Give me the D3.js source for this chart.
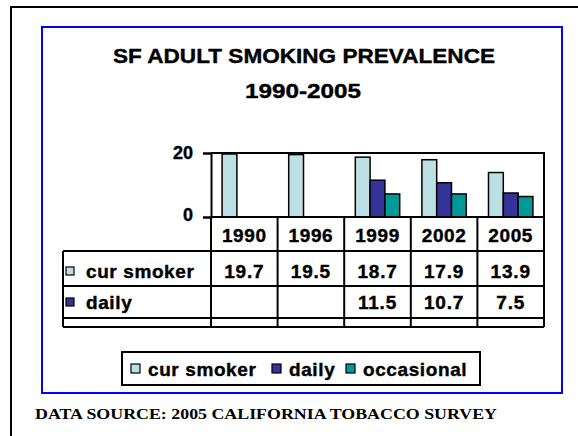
<!DOCTYPE html>
<html>
<head>
<meta charset="utf-8">
<script src="https://cdn.jsdelivr.net/npm/d3@7"></script>
<style>
  body { margin: 0; background: #fff; }
  svg text { font-weight: bold; fill: #000; }
  svg text.heavy { stroke: #000; stroke-width: 0.4px; }
</style>
</head>
<body>
<div class="svg-container"></div>
<script>
// chart values
const years = ['1990', '1996', '1999', '2002', '2005'];
const seriesNames = ['cur smoker', 'daily', 'occasional'];
const curSmoker = [19.7, 19.5, 18.7, 17.9, 13.9];
const daily = [null, null, 11.5, 10.7, 7.5];
const occasional = [null, null, 7.2, 7.2, 6.4];
const yTicks = [0, 20];
const colors = ['#bce0e3', '#333399', '#009999'];

const sans = '"Liberation Sans", Arial, sans-serif';
const serif = '"Liberation Serif", "Times New Roman", serif';

const renderChart = () => {
  const width = 578;
  const height = 436;
  const plot = { left: 211, right: 544, top: 153, bottom: 217 };
  const rows = [217, 251, 286, 318, 327];

  const svg = d3.select('.svg-container')
    .append('svg')
    .attr('width', width)
    .attr('height', height)
    .style('font-family', sans);

  // outer frame and blue chart frame
  svg.append('rect')
    .attr('x', 11).attr('y', 7).attr('width', 700).attr('height', 600)
    .attr('fill', 'none').attr('stroke', '#000').attr('stroke-width', 2);
  svg.append('rect')
    .attr('x', 42).attr('y', 27).attr('width', 520).attr('height', 366)
    .attr('fill', '#fff').attr('stroke', '#0000ff').attr('stroke-width', 2);

  // title
  svg.append('text')
    .attr('class', 'heavy')
    .attr('x', 113).attr('y', 63)
    .attr('font-size', 21)
    .attr('textLength', 382).attr('lengthAdjust', 'spacingAndGlyphs')
    .text('SF ADULT SMOKING PREVALENCE');
  svg.append('text')
    .attr('class', 'heavy')
    .attr('x', 245).attr('y', 98)
    .attr('font-size', 21)
    .attr('textLength', 116).attr('lengthAdjust', 'spacingAndGlyphs')
    .text('1990-2005');

  // scales
  const x = d3.scaleBand().domain(years).range([plot.left, plot.right]);
  const xInner = d3.scaleBand().domain(seriesNames).range([0, x.bandwidth()])
    .paddingInner(0).paddingOuter(0.75);
  const y = d3.scaleLinear().domain([0, 20]).range([plot.bottom, plot.top]);

  // plot area border
  svg.append('path')
    .attr('d', `M${plot.left},${plot.top}H${plot.right}V${plot.bottom}`)
    .attr('fill', 'none').attr('stroke', '#000').attr('stroke-width', 2);

  // y axis
  const yAxis = svg.append('g')
    .attr('transform', `translate(${plot.left},0)`)
    .call(d3.axisLeft(y).tickValues(yTicks).tickSize(8).tickPadding(10).tickFormat(d3.format('d')));
  yAxis.attr('font-family', null).attr('font-size', null);
  yAxis.select('.domain').attr('stroke', '#000').attr('stroke-width', 2);
  yAxis.selectAll('.tick line').attr('stroke', '#000').attr('stroke-width', 2);
  yAxis.selectAll('.tick text')
    .attr('class', 'heavy')
    .attr('font-size', 18).attr('fill', '#000');
  yAxis.selectAll('.tick').filter(d => d === 0).select('text').attr('dy', '0.2em');

  // bars
  const series = [curSmoker, daily, occasional];
  series.forEach((vals, si) => {
    svg.append('g')
      .selectAll('rect')
      .data(years.map((yr, i) => ({ yr, v: vals[i] })).filter(d => d.v !== null))
      .enter()
      .append('rect')
      .attr('x', d => x(d.yr) + xInner(seriesNames[si]))
      .attr('y', d => y(d.v))
      .attr('width', xInner.bandwidth())
      .attr('height', d => y(0) - y(d.v))
      .attr('fill', colors[si])
      .attr('stroke', '#000')
      .attr('stroke-width', 1.5);
  });

  // data table grid
  const grid = svg.append('g').attr('stroke', '#000').attr('stroke-width', 2);
  rows.slice(1).forEach(ry => {
    grid.append('line').attr('x1', 63).attr('x2', plot.right).attr('y1', ry).attr('y2', ry);
  });
  grid.append('line').attr('x1', plot.left).attr('x2', plot.right).attr('y1', rows[0]).attr('y2', rows[0]);
  grid.append('line').attr('x1', 63).attr('x2', 63).attr('y1', rows[1]).attr('y2', rows[4]);
  years.forEach(yr => {
    grid.append('line').attr('x1', x(yr)).attr('x2', x(yr)).attr('y1', rows[0]).attr('y2', rows[4]);
  });
  grid.append('line').attr('x1', plot.right).attr('x2', plot.right).attr('y1', plot.bottom).attr('y2', rows[4]);

  // year labels
  svg.append('g')
    .selectAll('text')
    .data(years)
    .enter()
    .append('text')
    .attr('class', 'heavy')
    .attr('x', d => x(d) + x.bandwidth() / 2)
    .attr('y', 242)
    .attr('text-anchor', 'middle')
    .attr('font-size', 19)
    .attr('letter-spacing', 0.6)
    .text(d => d);

  // table rows (third row is cut off in the original)
  const tableRows = [
    { name: 'cur smoker', vals: curSmoker, base: 278, color: colors[0] },
    { name: 'daily', vals: daily, base: 309, color: colors[1] }
  ];
  tableRows.forEach(r => {
    svg.append('rect')
      .attr('x', 66).attr('y', r.base - 11).attr('width', 8).attr('height', 8)
      .attr('fill', r.color).attr('stroke', '#000').attr('stroke-width', 1.2);
    svg.append('text')
      .attr('class', 'heavy')
      .attr('x', 86).attr('y', r.base)
      .attr('font-size', 19).attr('letter-spacing', 0.6)
      .text(r.name);
    svg.append('g')
      .selectAll('text')
      .data(years.map((yr, i) => ({ yr, v: r.vals[i] })).filter(d => d.v !== null))
      .enter()
      .append('text')
      .attr('class', 'heavy')
      .attr('x', d => x(d.yr) + x.bandwidth() / 2)
      .attr('y', r.base)
      .attr('text-anchor', 'middle')
      .attr('font-size', 19)
      .attr('letter-spacing', 0.8)
      .text(d => d3.format('.1f')(d.v));
  });

  // legend
  svg.append('rect')
    .attr('x', 122).attr('y', 352).attr('width', 358).attr('height', 33)
    .attr('fill', '#fff').attr('stroke', '#000').attr('stroke-width', 2);
  const legendX = [131, 272, 346];
  seriesNames.forEach((name, i) => {
    svg.append('rect')
      .attr('x', legendX[i]).attr('y', 364).attr('width', 9).attr('height', 9)
      .attr('fill', colors[i]).attr('stroke', '#000').attr('stroke-width', 1.2);
    svg.append('text')
      .attr('class', 'heavy')
      .attr('x', legendX[i] + 17).attr('y', 376)
      .attr('font-size', 19).attr('letter-spacing', 0.6)
      .text(name);
  });

  // source note
  svg.append('text')
    .attr('x', 35).attr('y', 419)
    .attr('font-size', 15)
    .style('font-family', serif)
    .attr('textLength', 462).attr('lengthAdjust', 'spacingAndGlyphs')
    .text('DATA SOURCE:  2005 CALIFORNIA TOBACCO SURVEY');
};

renderChart();
</script>
</body>
</html>
